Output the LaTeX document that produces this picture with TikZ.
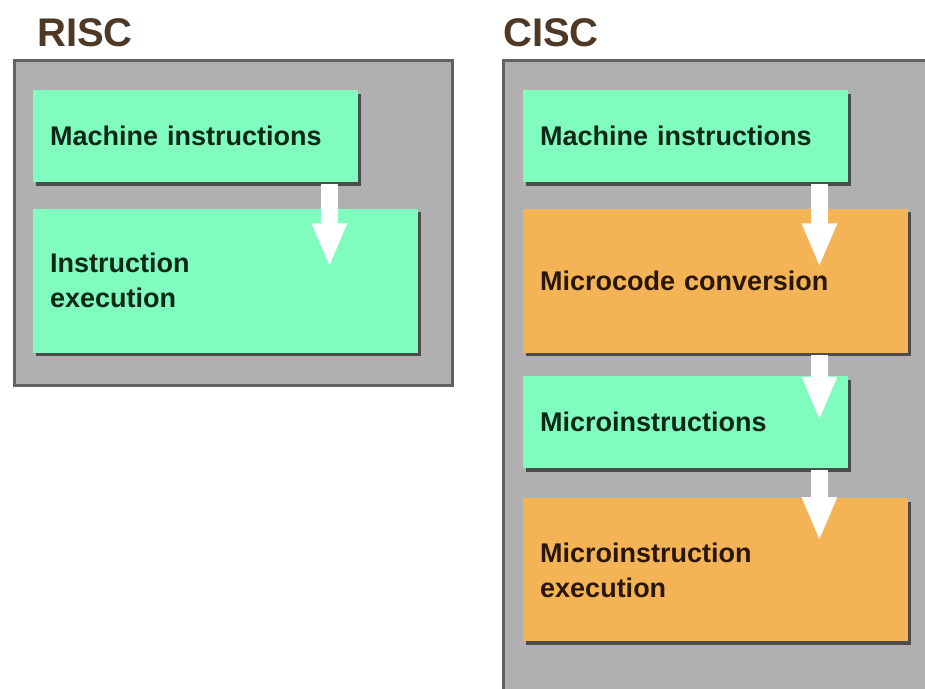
\documentclass[tikz,border=0pt]{standalone}
\usepackage{fontspec}
\setmainfont{Liberation Sans}
\usetikzlibrary{positioning,arrows.meta,shadows}

\definecolor{mint}{RGB}{128,252,190}
\definecolor{apricot}{RGB}{244,180,86}
\definecolor{panel}{RGB}{176,176,176}
\definecolor{panelrim}{RGB}{98,98,98}
\definecolor{inkgreen}{RGB}{12,38,24}
\definecolor{inkbrown}{RGB}{40,22,6}
\definecolor{titlebrown}{RGB}{78,56,38}

\begin{document}
\begin{tikzpicture}[x=1pt, y=-1pt, >=Triangle,
        panelbox/.style={draw=panelrim, line width=3pt, fill=panel},
        stepbox/.style={inner xsep=17pt, inner ysep=0pt, align=left, font=\fontsize{27}{35}\selectfont\bfseries,
            drop shadow={shadow xshift=2.5pt, shadow yshift=-3.5pt, fill=black!70, opacity=1}},
        narrow/.style={stepbox, text width=291pt, minimum height=92pt},
        wide/.style={stepbox, text width=351pt, minimum height=144pt},
        green/.style={fill=mint, text=inkgreen},
        orange/.style={fill=apricot, text=inkbrown},
        flow/.style={draw=white, line width=17pt, -{Triangle[width=32pt, length=44pt, fill=white]}},
        title/.style={font=\fontsize{40}{42}\selectfont\bfseries, text=titlebrown}]
        \useasboundingbox (0,0) rectangle (925,688);

        % RISC side
        \node[title] (risc) at (85,33) {RISC};
        \draw[panelbox] (14,60) rectangle (452,385);
        \node[narrow, green, anchor=north west] (RM) at (33,90) {Machine instructions};
        \node[wide, green, below=26pt of RM.south west, anchor=north west] (RE) {Instruction\\execution};

        % CISC side
        \node[title] (cisc) at (551,33) {CISC};
        \draw[panelbox] (503,60) rectangle (935,700);
        \node[narrow, green, anchor=north west] (CM) at (523,90) {Machine instructions};
        \node[wide, orange, below=26pt of CM.south west, anchor=north west] (CC) {Microcode conversion};
        \node[narrow, green, below=23pt of CC.south west, anchor=north west] (CI) {Microinstructions};
        \node[wide, orange, below=30pt of CI.south west, anchor=north west, minimum height=143pt] (CX) {Microinstruction\\execution};

        \draw[flow] ([xshift=-29pt, yshift=-2pt]RM.south east) -- ([xshift=-89pt, yshift=-59pt]RE.north east);
        \draw[flow] ([xshift=-29pt, yshift=-2pt]CM.south east) -- ([xshift=-89pt, yshift=-59pt]CC.north east);
        \draw[flow] ([xshift=-89pt, yshift=-2pt]CC.south east) -- ([xshift=-29pt, yshift=-45pt]CI.north east);
        \draw[flow] ([xshift=-29pt, yshift=-2pt]CI.south east) -- ([xshift=-89pt, yshift=-43pt]CX.north east);
    \end{tikzpicture}
\end{document}
